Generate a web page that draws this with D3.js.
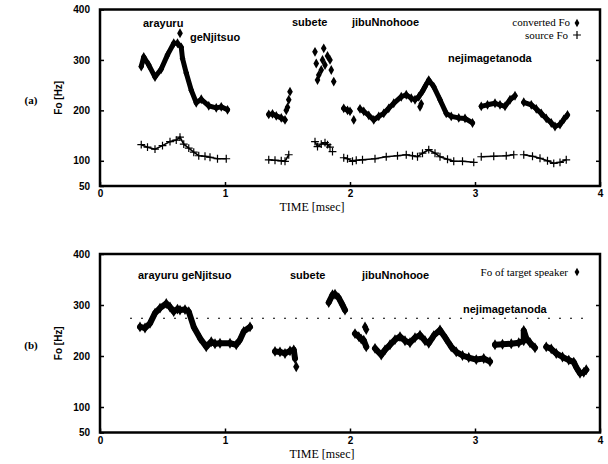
<html>
<script src='https://d3js.org/d3.v7.min.js'></script>
<style>
body {margin:0; background:white;}
.tick text {font-family:"Liberation Sans", Arial, sans-serif; font-weight:bold; font-size:10px; fill:black;}
.word {font-family:"Liberation Sans", Arial, sans-serif; font-weight:bold; font-size:11px;}
.serif {font-family:"Liberation Serif", "Times New Roman", serif; font-size:11px;}
</style>
<body onload='init()'>
<svg width=608 height=464></svg>
<script>
// ---- data (time in msec, Fo in Hz) ----
var xTicks = [0,1,2,3,4];
var yTicks = [50,100,200,300,400];

// (a) converted Fo, connected runs
var convertedA = [
  [[0.33,287],[0.35,306],[0.39,290],[0.44,266],[0.49,282],[0.54,310],[0.59,333],[0.62,333],[0.65,325],[0.66,303],[0.69,274],[0.73,240],[0.77,215],[0.81,222],[0.87,209],[0.93,205],[0.97,207],[1.02,201]],
  [[1.35,192],[1.38,193],[1.41,189],[1.45,185],[1.48,181]],
  [[1.95,204],[1.98,200],[2.00,198]],
  [[2.08,203],[2.11,198],[2.15,190],[2.19,181],[2.23,188],[2.27,194],[2.31,204],[2.35,214],[2.41,227],[2.45,231],[2.49,224],[2.52,221],[2.55,227],[2.58,238],[2.60,247],[2.63,260],[2.67,247],[2.72,221],[2.77,194],[2.81,188],[2.87,185],[2.92,184],[2.98,175]],
  [[3.05,208],[3.10,211],[3.16,214],[3.20,211],[3.24,208],[3.28,221],[3.32,229]],
  [[3.39,216],[3.45,211],[3.49,203],[3.53,194],[3.57,184],[3.61,175],[3.64,168],[3.68,172],[3.71,182],[3.74,191]]
];
// (a) converted Fo, lone points
var convertedDotsA = [[0.64,353],[1.49,200],[1.50,206],[1.51,221],[1.52,237],
  [1.72,316],[1.79,323],[1.82,308],[1.84,300],[1.78,300],[1.73,293],[1.80,290],[1.77,280],[1.75,270],[1.74,260],[1.85,280],[1.87,257],
  [2.03,181],[2.56,207],[2.57,213]];
// (a) source Fo
var sourceA = [
  [[0.33,132],[0.38,127],[0.44,123],[0.50,130],[0.56,138],[0.61,141],[0.64,147],[0.67,133],[0.71,125],[0.75,117],[0.79,110],[0.84,109],[0.88,107],[0.94,104],[1.01,104]],
  [[1.35,102],[1.40,101],[1.45,100],[1.48,99],[1.51,112]],
  [[1.72,138],[1.74,128],[1.77,133],[1.80,136],[1.82,132],[1.84,127]],
  [[1.95,106],[1.98,104],[2.02,99],[2.05,101],[2.10,102],[2.20,104],[2.29,108],[2.38,110],[2.45,112],[2.50,110],[2.54,108],[2.58,115],[2.63,122],[2.68,115],[2.72,108],[2.78,103],[2.83,99],[2.90,99],[2.99,97]],
  [[3.05,108],[3.15,109],[3.25,110],[3.31,112]],
  [[3.39,112],[3.46,109],[3.52,105],[3.58,100],[3.63,95],[3.68,97],[3.73,102]]
];
var sourceDotsA = [[1.86,118]];

// (b) Fo of target speaker
var targetB = [
  [[0.32,257],[0.36,255],[0.40,264],[0.44,284],[0.48,294],[0.53,303],[0.56,296],[0.59,287],[0.62,292],[0.64,290],[0.68,291],[0.71,287],[0.75,257],[0.80,235],[0.85,218],[0.89,228],[0.92,224],[0.96,225],[1.04,225],[1.09,222],[1.12,232],[1.15,248],[1.20,257]],
  [[1.40,209],[1.44,208],[1.48,205],[1.52,210],[1.55,212],[1.56,195]],
  [[1.83,305],[1.86,320],[1.88,321],[1.91,314],[1.94,300],[1.96,290]],
  [[2.04,244],[2.07,238],[2.09,233],[2.11,231],[2.13,218]],
  [[2.20,215],[2.25,202],[2.28,212],[2.32,222],[2.36,232],[2.40,238],[2.44,230],[2.48,226],[2.52,236],[2.56,241],[2.60,230],[2.63,225],[2.67,240],[2.72,251],[2.77,233],[2.81,218],[2.85,208],[2.90,201],[2.95,197],[3.01,193],[3.07,195],[3.12,189]],
  [[3.16,222],[3.22,223],[3.29,224],[3.35,226],[3.39,230],[3.39,250],[3.41,235],[3.44,226],[3.48,216]],
  [[3.57,218],[3.61,214],[3.65,205],[3.70,198],[3.75,192],[3.79,188],[3.81,178],[3.84,166],[3.87,168],[3.89,173]]
];
var targetDotsB = [[1.57,179],[2.12,257],[2.13,252]];
var refLevelB = [[0.24,274],[3.92,274]];

var wordsA = [["arayuru",143,27],["geNjitsuo",190,41],["subete",292,26],["jibuNnohooe",352,26],["nejimagetanoda",448,62]];
var wordsB = [["arayuru geNjitsuo",138,279],["subete",290,279],["jibuNnohooe",362,279],["nejimagetanoda",463,313]];

function init() {
  var svg = d3.select("svg");
  var x = d3.scaleLinear().domain([0,4]).range([100,600]);

  function panel(top, bottom, tag, titleX) {
    var y = d3.scaleLinear().domain([50,400]).range([bottom, top]);
    var g = svg.append("g");
    g.append("rect").attr("x",100).attr("y",top).attr("width",500).attr("height",bottom-top)
      .attr("fill","none").attr("stroke","black").attr("stroke-width",2.5);
    g.append("g").attr("transform","translate(100,0)")
      .call(d3.axisLeft(y).tickValues(yTicks).tickSizeInner(-4).tickSizeOuter(0).tickPadding(10))
      .call(a => a.select(".domain").remove());
    g.append("g").attr("transform","translate(600,0)")
      .call(d3.axisRight(y).tickValues([100,200,300]).tickSizeInner(-4).tickSizeOuter(0).tickFormat(""))
      .call(a => a.select(".domain").remove());
    g.append("g").attr("transform","translate(0,"+bottom+")")
      .call(d3.axisBottom(x).tickValues(xTicks).tickSizeInner(-4).tickSizeOuter(0).tickPadding(4).tickFormat(d3.format("d")))
      .call(a => a.select(".domain").remove());
    g.selectAll(".tick line").attr("stroke","black").attr("stroke-width",1.5);

    g.append("text").attr("class","word").attr("text-anchor","middle").style("font-size","10px")
      .attr("transform","translate(62,"+(top+bottom)/2+") rotate(-90)").text("Fo [Hz]");
    g.append("text").attr("class","serif").attr("text-anchor","middle").style("font-size","12px")
      .attr("x",titleX).attr("y",bottom+25).text("TIME [msec]");
    g.append("text").attr("class","serif").attr("text-anchor","middle").style("font-weight","bold")
      .attr("x",31).attr("y",(top+bottom)/2+6).text(tag);
    return y;
  }

  var line = function(y){ return d3.line().x(d => x(d[0])).y(d => y(d[1])); };
  var plus = d3.symbol().type(d3.symbolPlus).size(22);

  function thick(y, runs, dots, w, s) {
    var diamond = d3.symbol().type(d3.symbolDiamond).size(s);
    var g = svg.append("g");
    g.selectAll("path.run").data(runs).enter().append("path").attr("class","run")
      .attr("d", line(y)).attr("fill","none").attr("stroke","black")
      .attr("stroke-width",w).attr("stroke-linejoin","round").attr("stroke-linecap","round");
    g.selectAll("path.pt").data(runs.flat().concat(dots)).enter().append("path").attr("class","pt")
      .attr("d", diamond).attr("transform", d => "translate("+x(d[0])+","+y(d[1])+")").attr("fill","black");
  }

  // panel (a)
  var ya = panel(9.5, 186, "(a)", 312);
  thick(ya, convertedA, convertedDotsA, 5, 28);
  var gs = svg.append("g");
  gs.selectAll("path.run").data(sourceA).enter().append("path").attr("class","run")
    .attr("d", line(ya)).attr("fill","none").attr("stroke","black").attr("stroke-width",1.6);
  gs.selectAll("path.pt").data(sourceA.flat().concat(sourceDotsA)).enter().append("path").attr("class","pt")
    .attr("d", plus).attr("transform", d => "translate("+x(d[0])+","+ya(d[1])+")")
    .attr("fill","none").attr("stroke","black").attr("stroke-width",1.2);

  svg.selectAll("text.wa").data(wordsA).enter().append("text").attr("class","word wa")
    .attr("x", d => d[1]).attr("y", d => d[2]).text(d => d[0]);
  svg.append("text").attr("class","serif").attr("text-anchor","end").attr("x",570).attr("y",26).text("converted Fo");
  svg.append("path").attr("d", d3.symbol().type(d3.symbolDiamond).size(20)).attr("transform","translate(577,23)");
  svg.append("text").attr("class","serif").attr("text-anchor","end").attr("x",568).attr("y",39).text("source Fo");
  svg.append("path").attr("d", plus).attr("transform","translate(577,35)").attr("fill","none").attr("stroke","black").attr("stroke-width",1.2);

  // panel (b)
  var yb = panel(254, 432.5, "(b)", 322);
  svg.append("path").datum(refLevelB).attr("d", line(yb)).attr("fill","none").attr("stroke","black")
    .attr("stroke-width",1).attr("stroke-dasharray","2,9");
  thick(yb, targetB, targetDotsB, 6, 34);
  svg.selectAll("text.wb").data(wordsB).enter().append("text").attr("class","word wb")
    .attr("x", d => d[1]).attr("y", d => d[2]).text(d => d[0]);
  svg.append("text").attr("class","serif").attr("text-anchor","end").attr("x",568).attr("y",276).text("Fo of target speaker");
  svg.append("path").attr("d", d3.symbol().type(d3.symbolDiamond).size(20)).attr("transform","translate(577,272)");
}
</script>
</body>
</html>
